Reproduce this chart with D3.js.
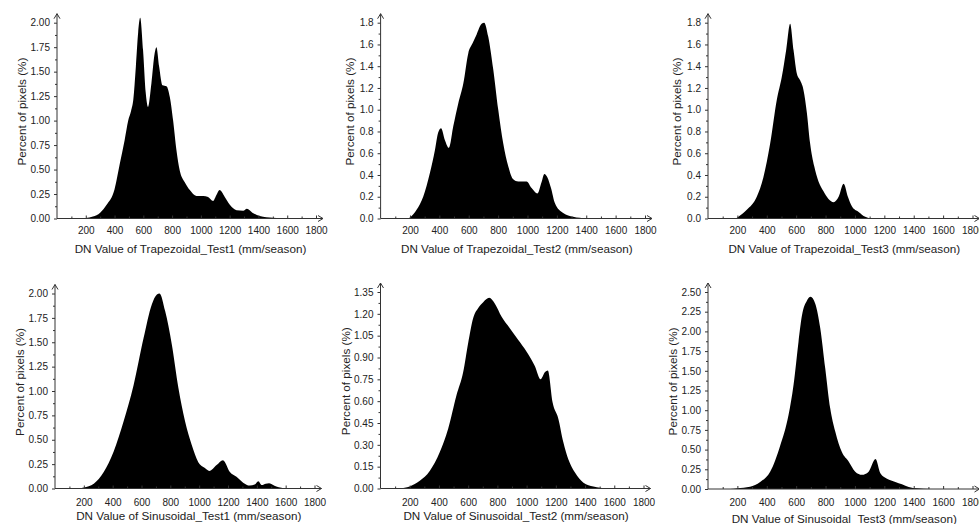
<!DOCTYPE html>
<html>
<head>
<meta charset="utf-8">
<script src="https://cdnjs.cloudflare.com/ajax/libs/d3/7.8.5/d3.min.js"></script>
<style>
    body { margin: 0; background: #fff; }
    svg { display: block; }
    .axis text { font-family: "Liberation Sans", Arial, sans-serif; font-size: 10px; fill: #222; }
    .axis line { stroke: #333; }
    .ax_title { font-family: "Liberation Sans", Arial, sans-serif; font-size: 11.7px; fill: #222; }
</style>
</head>
<body>
<svg id="svgHist"></svg>
<script>
// DATA ///////////////////////////////////////////////////////////////////////

const xTickLabels = [200, 400, 600, 800, 1000, 1200, 1400, 1600, 1800];
const xMinorTicks = [100, 300, 500, 700, 900, 1100, 1300, 1500, 1700];

const yTicks200 = [0, 0.25, 0.5, 0.75, 1.0, 1.25, 1.5, 1.75, 2.0];
const yTicks180 = [0, 0.2, 0.4, 0.6, 0.8, 1.0, 1.2, 1.4, 1.6, 1.8];
const yTicks135 = [0, 0.15, 0.3, 0.45, 0.6, 0.75, 0.9, 1.05, 1.2, 1.35];
const yTicks250 = [0, 0.25, 0.5, 0.75, 1.0, 1.25, 1.5, 1.75, 2.0, 2.25, 2.5];

const xTitles = [
    "DN Value of Trapezoidal_Test1 (mm/season)",
    "DN Value of Trapezoidal_Test2 (mm/season)",
    "DN Value of Trapezoidal_Test3 (mm/season)",
    "DN Value of Sinusoidal_Test1 (mm/season)",
    "DN Value of Sinusoidal_Test2 (mm/season)",
    "DN Value of Sinusoidal_Test3 (mm/season)"
];
const yTitle = "Percent of pixels (%)";

// DN value / percent of pixels
const trap1X = [150, 200, 250, 300, 345, 400, 435, 470, 495, 515, 530, 548, 564, 578, 598, 617, 633, 656, 679, 691, 710, 733, 761, 784, 807, 830, 853, 888, 923, 969, 1016, 1050, 1085, 1108, 1130, 1166, 1201, 1248, 1294, 1320, 1358, 1409, 1500, 1600];
const trap1Y = [0, 0.005, 0.02, 0.06, 0.14, 0.3, 0.55, 0.8, 1.0, 1.1, 1.21, 1.55, 1.9, 2.05, 1.72, 1.28, 1.14, 1.38, 1.69, 1.75, 1.55, 1.36, 1.35, 1.24, 1.0, 0.7, 0.49, 0.37, 0.29, 0.23, 0.23, 0.22, 0.18, 0.24, 0.29, 0.22, 0.14, 0.085, 0.08, 0.1, 0.06, 0.025, 0.007, 0];

const trap2X = [180, 200, 245, 290, 336, 370, 392, 412, 438, 465, 495, 529, 563, 597, 626, 653, 688, 705, 733, 767, 801, 835, 869, 903, 937, 994, 1028, 1068, 1095, 1115, 1135, 1160, 1187, 1243, 1311, 1400];
const trap2Y = [0, 0.01, 0.08, 0.2, 0.42, 0.63, 0.79, 0.83, 0.72, 0.65, 0.85, 1.06, 1.24, 1.52, 1.61, 1.69, 1.79, 1.8, 1.67, 1.37, 1.0, 0.69, 0.48, 0.36, 0.34, 0.34, 0.28, 0.23, 0.33, 0.41, 0.38, 0.28, 0.14, 0.05, 0.015, 0];

const trap3X = [190, 200, 264, 332, 377, 423, 468, 502, 532, 559, 582, 605, 627, 650, 673, 695, 723, 752, 786, 820, 855, 889, 923, 952, 980, 1025, 1070, 1105];
const trap3Y = [0, 0.01, 0.08, 0.2, 0.38, 0.69, 1.09, 1.3, 1.55, 1.79, 1.55, 1.33, 1.27, 1.18, 0.97, 0.69, 0.48, 0.34, 0.25, 0.18, 0.15, 0.2, 0.32, 0.2, 0.11, 0.06, 0.015, 0];

const sin1X = [150, 200, 269, 338, 407, 476, 545, 614, 672, 707, 725, 764, 810, 856, 902, 948, 994, 1040, 1070, 1121, 1165, 1213, 1259, 1305, 1351, 1385, 1410, 1435, 1462, 1485, 1535, 1604];
const sin1Y = [0, 0.01, 0.05, 0.17, 0.38, 0.69, 1.06, 1.54, 1.89, 1.99, 2.0, 1.82, 1.48, 1.03, 0.69, 0.45, 0.27, 0.21, 0.18, 0.24, 0.29, 0.17, 0.12, 0.06, 0.03, 0.04, 0.075, 0.035, 0.05, 0.055, 0.02, 0];

const sin2X = [130, 200, 269, 337, 406, 463, 520, 566, 600, 634, 669, 703, 744, 783, 829, 886, 943, 1000, 1057, 1096, 1126, 1145, 1178, 1217, 1251, 1286, 1331, 1389, 1457, 1550];
const sin2Y = [0, 0.014, 0.053, 0.12, 0.25, 0.41, 0.64, 0.8, 1.0, 1.17, 1.24, 1.28, 1.31, 1.27, 1.18, 1.1, 1.02, 0.94, 0.84, 0.75, 0.8, 0.81, 0.59, 0.48, 0.32, 0.2, 0.11, 0.04, 0.014, 0];

const sin3X = [150, 200, 286, 355, 423, 491, 548, 582, 616, 639, 673, 698, 730, 764, 798, 832, 866, 911, 957, 1002, 1048, 1093, 1140, 1173, 1218, 1275, 1320, 1366, 1423, 1514];
const sin3Y = [0, 0.01, 0.03, 0.09, 0.22, 0.55, 0.94, 1.32, 1.87, 2.2, 2.39, 2.44, 2.35, 2.04, 1.53, 1.02, 0.73, 0.47, 0.35, 0.22, 0.18, 0.22, 0.38, 0.2, 0.13, 0.09, 0.06, 0.025, 0.008, 0];


// SETUP //////////////////////////////////////////////////////////////////////

const WIDTH = 979, HEIGHT = 524;
const ARROW_Y = 9, ARROW_X = 7;

var svg = d3.select('body')
    .select('#svgHist')
    .attr('width', WIDTH)
    .attr('height', HEIGHT)

// one entry per histogram; left/right = pixel of DN 0 / 1800, bottom/top = pixel of 0 / top tick
// pad = gap axis -> tick labels, titleDy = axis -> title baseline
var panels = [
    { xs: trap1X, ys: trap1Y, ticks: yTicks200, dec: 2, title: xTitles[0], left: 57, right: 316, bottom: 218.5, top: 22.7, pad: 8, titleDy: 34 },
    { xs: trap2X, ys: trap2Y, ticks: yTicks180, dec: 1, title: xTitles[1], left: 380.6, right: 645, bottom: 218.5, top: 22.7, pad: 8, titleDy: 34 },
    { xs: trap3X, ys: trap3Y, ticks: yTicks180, dec: 1, title: xTitles[2], left: 708, right: 972.5, bottom: 218.5, top: 22.7, pad: 8, titleDy: 34 },
    { xs: sin1X, ys: sin1Y, ticks: yTicks200, dec: 2, title: xTitles[3], left: 55, right: 314.5, bottom: 488.5, top: 293.5, pad: 10, titleDy: 31.3 },
    { xs: sin2X, ys: sin2Y, ticks: yTicks135, dec: 2, title: xTitles[4], left: 380.5, right: 643.5, bottom: 488.5, top: 292, pad: 10, titleDy: 31.3 },
    { xs: sin3X, ys: sin3Y, ticks: yTicks250, dec: 2, title: xTitles[5], left: 708, right: 972.5, bottom: 489, top: 292, pad: 10, titleDy: 34 }
];


function drawPanel(p) {
    var x = d3.scaleLinear().domain([0, 1800]).range([p.left, p.right]);
    var y = d3.scaleLinear().domain([0, d3.max(p.ticks)]).range([p.bottom, p.top]);
    var g = svg.append("g");

    var pts = p.xs.map(function (v, i) { return [v, p.ys[i]]; });

    var area = d3.area()
        .x(function (d) { return x(d[0]); })
        .y0(y(0))
        .y1(function (d) { return y(d[1]); })
        .curve(d3.curveMonotoneX);

    g.append("path")
        .datum(pts)
        .attr("d", area)
        .attr("fill", "#000")

    // x axis: ticks pointing up, labels below
    g.append("g")
        .attr("class", "axis")
        .attr("transform", "translate(0," + p.bottom + ")")
        .call(d3.axisBottom(x).tickValues(xTickLabels).tickFormat(d3.format("d"))
            .tickSizeInner(-3).tickSizeOuter(0).tickPadding(p.pad))
        .call(function (s) { s.select(".domain").remove(); });

    g.append("g")
        .attr("class", "axis")
        .attr("transform", "translate(0," + p.bottom + ")")
        .call(d3.axisBottom(x).tickValues(xMinorTicks).tickFormat("")
            .tickSizeInner(-2).tickSizeOuter(0))
        .call(function (s) { s.select(".domain").remove(); });

    // y axis: ticks pointing left
    var minor = d3.pairs(p.ticks).map(function (d) { return (d[0] + d[1]) / 2; });

    g.append("g")
        .attr("class", "axis")
        .attr("transform", "translate(" + p.left + ",0)")
        .call(d3.axisLeft(y).tickValues(p.ticks).tickFormat(d3.format("." + p.dec + "f"))
            .tickSize(3).tickPadding(4))
        .call(function (s) { s.select(".domain").remove(); });

    g.append("g")
        .attr("class", "axis")
        .attr("transform", "translate(" + p.left + ",0)")
        .call(d3.axisLeft(y).tickValues(minor).tickFormat("").tickSize(2))
        .call(function (s) { s.select(".domain").remove(); });

    // axis lines with open arrow heads
    var xEnd = p.right + ARROW_X, yEnd = p.top - ARROW_Y;
    g.append("path")
        .attr("d", "M" + p.left + "," + p.bottom + "H" + xEnd
            + "M" + (xEnd - 5) + "," + (p.bottom - 3) + "L" + xEnd + "," + p.bottom + "L" + (xEnd - 5) + "," + (p.bottom + 3)
            + "M" + p.left + "," + p.bottom + "V" + yEnd
            + "M" + (p.left - 3) + "," + (yEnd + 5) + "L" + p.left + "," + yEnd + "L" + (p.left + 3) + "," + (yEnd + 5))
        .attr("fill", "none")
        .attr("stroke", "#333")
        .attr("stroke-width", 1)

    // titles
    g.append("text")
        .attr("class", "ax_title")
        .text(p.title)
        .attr("x", (p.left + p.right) / 2 + 4)
        .attr("y", p.bottom + p.titleDy)
        .style("text-anchor", "middle")

    var tx = p.left - (p.dec == 2 ? 35 : 31);
    var ty = (p.top + p.bottom) / 2 - 9;
    g.append("text")
        .attr("class", "ax_title")
        .text(yTitle)
        .attr("transform", "translate(" + tx + "," + ty + ") rotate(-90)")
        .attr("dy", "0.35em")
        .style("text-anchor", "middle")
}

panels.forEach(drawPanel);
</script>
</body>
</html>
